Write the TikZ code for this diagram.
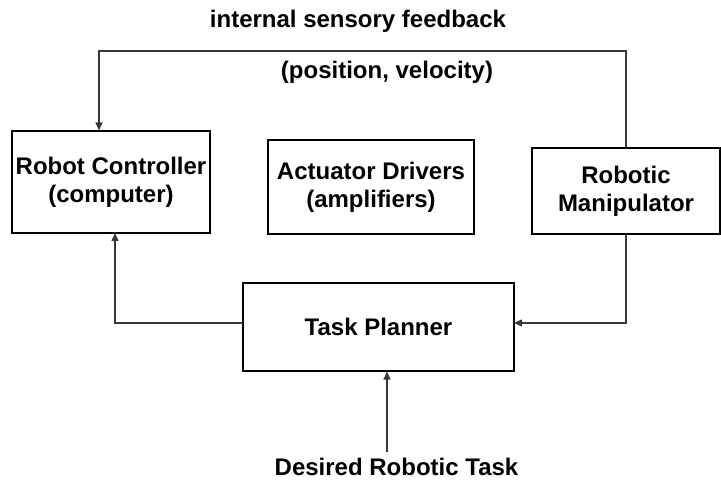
\documentclass[tikz,border=0pt]{standalone}
\usepackage{fontspec}
\setmainfont{Liberation Sans}
\usetikzlibrary{arrows.meta}
\begin{document}
\begin{tikzpicture}[x=1pt,y=-1pt,
  box/.style={draw=black,line width=1.2pt,rectangle,inner sep=0pt,align=center,
    font=\fontsize{24}{28}\selectfont\bfseries},
  lbl/.style={inner sep=0pt,align=center,font=\fontsize{24}{28}\selectfont\bfseries},
  conn/.style={draw=black!78,line width=1.3pt},
  arr/.style={conn,-{Triangle[length=8pt,width=7pt]}}]
\useasboundingbox (0,0) rectangle (721,481);
\node[box,minimum width=198pt,minimum height=102pt] (ctrl) at (111,182) {Robot Controller\\(computer)};
\node[box,minimum width=206pt,minimum height=94pt] (act) at (371,187) {Actuator Drivers\\(amplifiers)};
\node[box,minimum width=188pt,minimum height=86pt] (manip) at (626,191) {Robotic\\Manipulator};
\node[box,minimum width=271pt,minimum height=88pt] (plan) at (378.5,327) {Task Planner};
\node[lbl] (desired) at (396.5,467) {Desired Robotic Task};
\node[lbl] (fbtop) at (358,21) {internal sensory feedback};
\node[lbl] (fbbot) at (387,72) {(position, velocity)};
\coordinate (fbL) at (99,51);
\coordinate (pr) at (514,323);
\coordinate (pl) at (243,323);
\coordinate (cb) at (115,233);
\coordinate (ds) at (387,452);
\draw[arr] (manip.north) |- (fbL) -- (ctrl.north -| fbL);
\draw[arr] (manip.south) |- (pr);
\draw[arr] (pl) -| (cb);
\draw[arr] (ds) -- (plan.south -| ds);
\end{tikzpicture}
\end{document}
